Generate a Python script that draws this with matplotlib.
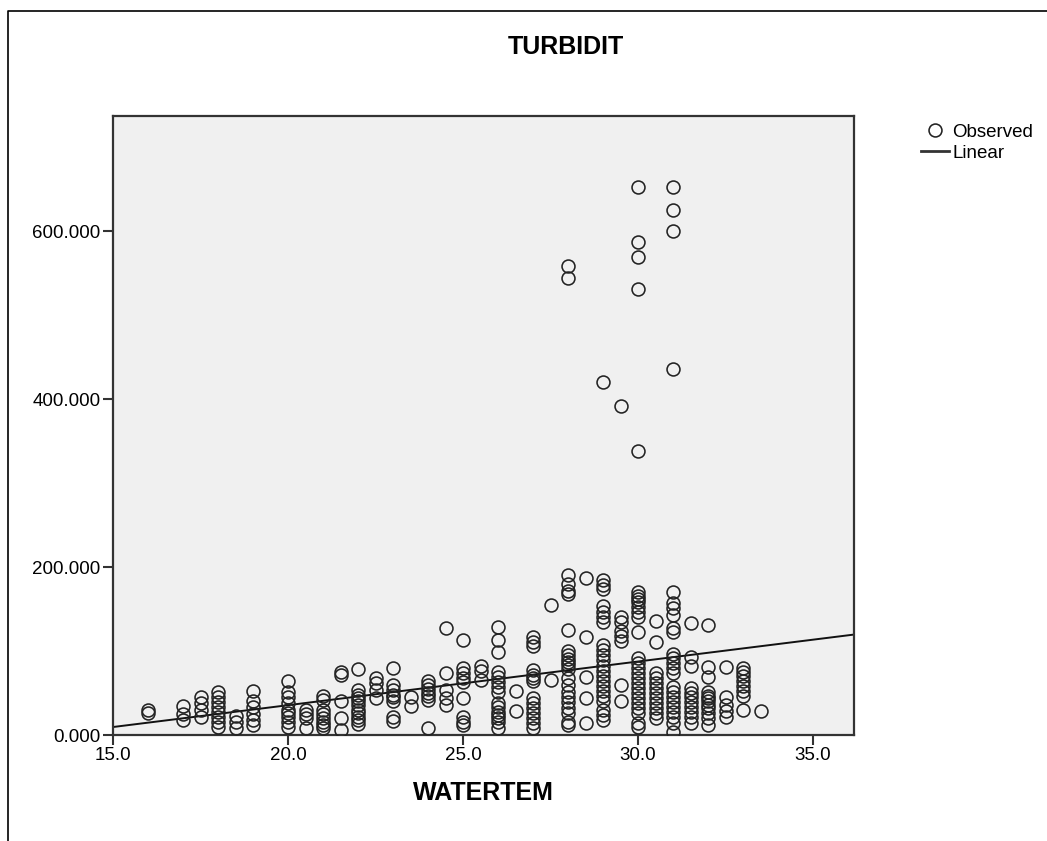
import matplotlib.pyplot as plt
from matplotlib.lines import Line2D
import numpy as np

plt.rcParams['font.family'] = ['Liberation Sans', 'DejaVu Sans']

# water temperature levels and the turbidity readings observed at each level
temps = [16, 17, 17.5, 18, 18.5, 19, 20, 20.5, 21, 21.5, 22, 22.5, 23, 23.5,
         24, 24.5, 25, 25.5, 26, 26.5, 27, 27.5, 28, 28.5, 29, 29.5, 30,
         30.5, 31, 31.5, 32, 32.5, 33, 33.5]
turbidity = [
    [30, 26],
    [35, 25, 18],
    [45, 38, 30, 22],
    [51, 45, 39, 33, 27, 22, 15, 9],
    [23, 15, 8],
    [52, 40, 33, 25, 18, 12],
    [64, 51, 45, 38, 30, 26, 22, 16, 10],
    [30, 25, 20, 8],
    [46, 42, 30, 25, 20, 16, 12, 8],
    [75, 71, 40, 20, 6],
    [78, 54, 48, 44, 40, 36, 30, 26, 22, 18, 13],
    [68, 62, 54, 44],
    [80, 60, 54, 48, 45, 40, 22, 17],
    [45, 35],
    [64, 60, 55, 50, 46, 42, 8],
    [127, 74, 54, 44, 36],
    [113, 80, 74, 68, 63, 44, 22, 16, 12],
    [82, 76, 65],
    [129, 113, 99, 75, 69, 63, 57, 51, 38, 33, 27, 24, 20, 15, 8],
    [52, 28],
    [117, 111, 106, 77, 72, 68, 64, 44, 38, 32, 26, 20, 14, 8],
    [155, 65],
    [558, 544, 190, 180, 172, 168, 125, 100, 95, 91, 87, 83, 78, 68, 60,
     51, 45, 39, 32, 26, 16, 12],
    [187, 117, 69, 44, 14],
    [420, 185, 179, 174, 153, 147, 141, 135, 107, 101, 95, 89, 82, 76, 70,
     64, 58, 52, 46, 40, 30, 24, 18],
    [392, 140, 134, 124, 118, 112, 60, 41],
    [652, 587, 569, 531, 338, 170, 165, 162, 158, 152, 146, 141, 123, 92,
     86, 80, 74, 68, 62, 56, 50, 44, 38, 32, 26, 14, 10],
    [136, 111, 74, 68, 62, 56, 50, 44, 38, 32, 26, 20],
    [652, 625, 600, 436, 170, 157, 151, 143, 127, 123, 97, 92, 86, 80, 74,
     57, 51, 45, 39, 33, 27, 22, 14, 4],
    [133, 93, 82, 56, 50, 45, 39, 33, 27, 22, 14],
    [131, 81, 69, 51, 47, 44, 40, 36, 32, 26, 20, 12],
    [81, 45, 36, 28, 22],
    [80, 75, 70, 64, 58, 52, 46, 30],
    [28],
]

# linear fit: turbidit = b0 + b1 * watertem
fit_b0 = -68.5
fit_b1 = 5.2

x_ticks = [15, 20, 25, 30, 35]
y_ticks = [0, 200, 400, 600]

x_obs = np.concatenate([[t] * len(v) for t, v in zip(temps, turbidity)])
y_obs = np.concatenate(turbidity)

fig = plt.figure(figsize=(10.47, 8.41), dpi=100, facecolor="white")
ax = fig.add_axes([113 / 1047, 106 / 841, 741 / 1047, 619 / 841])
ax.set_facecolor("#f0f0f0")

ax.plot(x_obs, y_obs, linestyle="none", marker="o", markersize=9.3,
        markerfacecolor="none", markeredgecolor="#222222",
        markeredgewidth=1.15, zorder=3)

x_lo, x_hi = 15.0, 36.17
fit_x = np.array([x_lo, x_hi])
ax.plot(fit_x, fit_b0 + fit_b1 * fit_x, color="#111111", linewidth=1.4, zorder=2)

ax.set_xlim(x_lo, x_hi)
ax.set_ylim(0, 737)
ax.set_xticks(x_ticks)
ax.set_xticklabels([f"{t:.1f}" for t in x_ticks])
ax.set_yticks(y_ticks)
ax.set_yticklabels([f"{t:.3f}" for t in y_ticks])
ax.tick_params(direction="out", length=7, width=1.5, color="#333333",
               labelsize=13.5, pad=2)

for spine in ax.spines.values():
    spine.set_edgecolor("#333333")
    spine.set_linewidth(1.6)

ax.set_xlabel("WATERTEM", fontsize=18, fontweight="bold", labelpad=12)
fig.text(566 / 1047, 1 - 47 / 841, "TURBIDIT", fontsize=18,
         fontweight="bold", ha="center", va="center")

handles = [
    Line2D([], [], linestyle="none", marker="o", markersize=9.3,
           markerfacecolor="none", markeredgecolor="#222222",
           markeredgewidth=1.15),
    Line2D([], [], color="#333333", linewidth=2),
]
fig.legend(handles, ["Observed", "Linear"], loc="upper left",
           bbox_to_anchor=(913 / 1047, 1 - 116 / 841), frameon=False,
           fontsize=13.5, handlelength=1.5, handletextpad=0.2,
           labelspacing=0.2, borderaxespad=0)

# outer border on the left and top
fig.add_artist(Line2D([8 / 1047, 8 / 1047, 1.0], [0.0, 1 - 11 / 841, 1 - 11 / 841],
                      transform=fig.transFigure, color="black", linewidth=1.2))

fig.savefig("out.png", dpi=100, facecolor="white")
